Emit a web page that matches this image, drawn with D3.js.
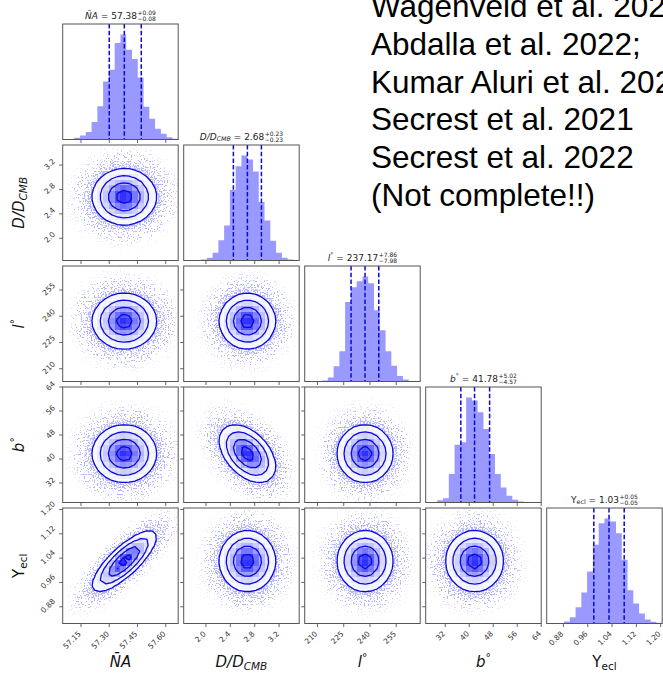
<!DOCTYPE html>
<html><head><meta charset="utf-8">
<script src="https://cdn.jsdelivr.net/npm/d3@7"></script>
<style>body{margin:0;background:#fff}svg{display:block}</style>
</head><body>
<svg id="chart" width="663" height="673"></svg>
<script>
// ---- parameters (NA, D/D_CMB, l, b, Upsilon_ecl) ----
const axisMin = [57.053, 1.635, 202.7, 25.5, 0.825];
const axisMax = [57.666, 3.53, 268.7, 64.0, 1.205];
const tickValues = [
  [57.15, 57.30, 57.45, 57.60],
  [2.0, 2.4, 2.8, 3.2],
  [210, 225, 240, 255],
  [32, 40, 48, 56, 64],
  [0.88, 0.96, 1.04, 1.12, 1.20]
];
const tickLabels = [
  ["57.15", "57.30", "57.45", "57.60"],
  ["2.0", "2.4", "2.8", "3.2"],
  ["210", "225", "240", "255"],
  ["32", "40", "48", "56", "64"],
  ["0.88", "0.96", "1.04", "1.12", "1.20"]
];
const medians = [57.38, 2.68, 237.17, 41.78, 1.03];
const errPlus = [0.09, 0.23, 7.86, 5.02, 0.05];
const errMinus = [0.08, 0.23, 7.98, 4.57, 0.05];
const medianText = ["57.38", "2.68", "237.17", "41.78", "1.03"];
const plusText = ["+0.09", "+0.23", "+7.86", "+5.02", "+0.05"];
const minusText = ["\u22120.08", "\u22120.23", "\u22127.98", "\u22124.57", "\u22120.05"];

// marginal histograms, 20 equal bins across each axis range
const histNA = [0, 1, 5, 12, 22, 52, 99, 172, 207, 287, 312, 267, 239, 184, 97, 62, 32, 17, 7, 2];
const histD  = [0, 0, 0, 3, 8, 23, 60, 103, 208, 278, 310, 298, 263, 173, 118, 58, 23, 8, 3, 1];
const histL  = [0, 0, 0, 3, 12, 45, 90, 236, 280, 298, 312, 292, 212, 152, 90, 47, 16, 6, 1, 0];
const histB  = [0, 0, 7, 13, 85, 173, 180, 314, 305, 270, 220, 145, 85, 45, 20, 8, 3, 1, 0, 0];
const histY  = [0, 0, 1, 6, 19, 49, 93, 156, 236, 301, 315, 306, 271, 191, 100, 60, 30, 12, 5, 2];
const histCounts = [histNA, histD, histL, histB, histY];

// pairwise correlation coefficients
const corrNA = [1, 0, 0, 0, 0.8];
const corrD  = [0, 1, 0, -0.45, 0];
const corrL  = [0, 0, 1, 0, 0];
const corrB  = [0, -0.45, 0, 1, 0];
const corrY  = [0.8, 0, 0, 0, 1];
const correlation = [corrNA, corrD, corrL, corrB, corrY];

// axis label text pieces
const axisLabelParts = [
  [{t: "N\u0304A", it: true}],
  [{t: "D/D", it: true}, {t: "CMB", it: true, sub: true}],
  [{t: "l", it: true}, {t: "\u00b0", sup: true}],
  [{t: "b", it: true}, {t: "\u00b0", sup: true}],
  [{t: "\u03a5"}, {t: "ecl", sub: true}]
];

const noteLines = ["Wagenveld et al. 2023;", "Abdalla et al. 2022;", "Kumar Aluri et al. 2023;",
                   "Secrest et al. 2021", "Secrest et al. 2022", "(Not complete!!)"];

// ---- layout ----
const W = 663, H = 673;
const N = 5, left0 = 62.7, top0 = 24, size = 115.5, pitch = 121;
const nBins = 20;
const blue = "#0000ff";
const lineBlue = "#0a0ad8";
const font = "DejaVu Sans, sans-serif";
const sigmaLevels = [0.5, 1, 1.5, 2];

const svg = d3.select("#chart");
const defs = svg.append("defs");

const xScales = d3.range(N).map(i => d3.scaleLinear()
  .domain([axisMin[i], axisMax[i]]).range([left0 + i * pitch, left0 + i * pitch + size]));
const yScales = d3.range(N).map(j => d3.scaleLinear()
  .domain([axisMin[j], axisMax[j]]).range([top0 + j * pitch + size, top0 + j * pitch]));

// speckle filter: turns a smooth density into a cloud of small sample dots
const f = defs.append("filter").attr("id", "speckle")
  .attr("filterUnits", "userSpaceOnUse").attr("x", 0).attr("y", 0).attr("width", W).attr("height", H)
  .attr("color-interpolation-filters", "sRGB");
f.append("feTurbulence").attr("type", "fractalNoise").attr("baseFrequency", 0.7)
  .attr("numOctaves", 1).attr("seed", 5).attr("result", "noise");
f.append("feColorMatrix").attr("in", "noise").attr("type", "matrix")
  .attr("values", "0 0 0 0 0  0 0 0 0 0  0 0 0 0 0  3 0 0 0 -1").attr("result", "na");
f.append("feColorMatrix").attr("in", "SourceGraphic").attr("type", "matrix")
  .attr("values", "0 0 0 0 0  0 0 0 0 0  0 0 0 0 0  0 0 0 1 0").attr("result", "sa");
f.append("feComposite").attr("in", "na").attr("in2", "sa").attr("operator", "arithmetic")
  .attr("k1", 0).attr("k2", 1).attr("k3", 1).attr("k4", -1).attr("result", "sum");
f.append("feComponentTransfer").attr("in", "sum").attr("result", "dots")
  .append("feFuncA").attr("type", "linear").attr("slope", 8).attr("intercept", 0);
f.append("feFlood").attr("flood-color", blue).attr("flood-opacity", 0.3).attr("result", "col");
f.append("feComposite").attr("in", "col").attr("in2", "dots").attr("operator", "in");

function sigmaOf(k) { return (errPlus[k] + errMinus[k]) / 2; }

// relative bivariate normal density for parameter pair (x: i, y: j)
function densityFn(i, j) {
  const mx = medians[i], sx = sigmaOf(i), my = medians[j], sy = sigmaOf(j);
  const r = correlation[j][i];
  return (x, y) => {
    const u = (x - mx) / sx, v = (y - my) / sy;
    return Math.exp(-0.5 * (u * u - 2 * r * u * v + v * v) / (1 - r * r));
  };
}

// rich text helper with sub/superscripts
function richText(text, parts, fs) {
  let off = 0;
  parts.forEach(p => {
    const ts = text.append("tspan").text(p.t);
    if (p.it) ts.attr("font-style", "italic");
    let target = 0;
    if (p.sub) { ts.attr("font-size", fs * 0.7); target = fs * 0.22; }
    else if (p.sup) { ts.attr("font-size", fs * 0.7); target = -fs * 0.38; }
    if (target !== off) ts.attr("dy", target - off);
    off = target;
  });
  return off;
}

function clipFor(id, x, y) {
  defs.append("clipPath").attr("id", id).append("rect")
    .attr("x", x).attr("y", y).attr("width", size).attr("height", size);
  return `url(#${id})`;
}

// ---- panels ----
for (let j = 0; j < N; j++) {
  for (let i = 0; i <= j; i++) {
    const xs = xScales[i];
    const px = xs.range()[0], py = top0 + j * pitch;
    const g = svg.append("g");
    const inner = g.append("g").attr("clip-path", clipFor(`c${i}${j}`, px, py));
    const bottom = py + size;

    if (i === j) {
      // marginal histogram
      const counts = histCounts[i];
      const bw = (axisMax[i] - axisMin[i]) / nBins;
      const ys = d3.scaleLinear().domain([0, 1.1 * d3.max(counts)]).range([bottom, py]);
      const steps = counts.map((c, b) => ({x: axisMin[i] + b * bw, c}));
      steps.push({x: axisMax[i], c: counts[nBins - 1]});
      inner.append("path")
        .attr("d", d3.area().curve(d3.curveStepAfter)
          .x(d => xs(d.x)).y0(bottom).y1(d => ys(d.c))(steps))
        .attr("fill", blue).attr("fill-opacity", 0.4);
      [medians[i] - errMinus[i], medians[i], medians[i] + errPlus[i]].forEach(q => {
        inner.append("line").attr("x1", xs(q)).attr("x2", xs(q)).attr("y1", py).attr("y2", bottom)
          .attr("stroke", lineBlue).attr("stroke-width", 1.5).attr("stroke-dasharray", "4.5,2.2");
      });
      // title with asymmetric errors
      const tg = svg.append("g").attr("font-family", font).attr("fill", "#222");
      const fs = 9;
      const t = tg.append("text").attr("x", 0).attr("y", py - 5.5).attr("font-size", fs);
      richText(t, axisLabelParts[i].concat([{t: " = " + medianText[i]}]), fs);
      const w1 = t.node().getComputedTextLength();
      const sp = tg.append("text").attr("x", w1 + 0.5).attr("y", py - 9).attr("font-size", 6).text(plusText[i]);
      const sm = tg.append("text").attr("x", w1 + 0.5).attr("y", py - 3.2).attr("font-size", 6).text(minusText[i]);
      const wt = w1 + 0.5 + Math.max(sp.node().getComputedTextLength(), sm.node().getComputedTextLength());
      tg.attr("transform", `translate(${px + size / 2 - wt / 2},0)`);
    } else {
      const ys = yScales[j];
      const dens = densityFn(i, j);
      // sample cloud drawn from a smooth density mask
      const n = Math.round(size);
      const cv = document.createElement("canvas");
      cv.width = n; cv.height = n;
      const ctx = cv.getContext("2d");
      const img = ctx.createImageData(n, n);
      for (let r = 0; r < n; r++) {
        for (let c = 0; c < n; c++) {
          const d = dens(xs.invert(px + (c + 0.5) * size / n), ys.invert(py + (r + 0.5) * size / n));
          img.data[(r * n + c) * 4 + 3] = Math.round(255 * Math.min(1, 0.75 * Math.pow(d / 0.135, 0.7)));
        }
      }
      ctx.putImageData(img, 0, 0);
      inner.append("image").attr("href", cv.toDataURL())
        .attr("x", px).attr("y", py).attr("width", size).attr("height", size)
        .attr("preserveAspectRatio", "none").attr("filter", "url(#speckle)");

      // binned density grid
      const bwx = (axisMax[i] - axisMin[i]) / nBins, bwy = (axisMax[j] - axisMin[j]) / nBins;
      const grid = new Array(nBins * nBins);
      for (let r = 0; r < nBins; r++)
        for (let c = 0; c < nBins; c++)
          grid[r * nBins + c] = dens(axisMin[i] + (c + 0.5) * bwx, axisMin[j] + (r + 0.5) * bwy);
      const gmax = d3.max(grid);
      const path = d3.geoPath(d3.geoTransform({
        point(x, y) { this.stream.point(xs(axisMin[i] + x * bwx), ys(axisMin[j] + y * bwy)); }
      }));
      const levels = sigmaLevels.map(s => Math.exp(-0.5 * s * s));
      const contours = d3.contours().size([nBins, nBins]).thresholds(levels)(grid);
      // white cover inside the outermost level
      const outer = contours.find(c => c.value === d3.min(levels));
      inner.append("path").attr("d", path(outer)).attr("fill", "#fff");
      // density cells
      for (let r = 0; r < nBins; r++) {
        for (let c = 0; c < nBins; c++) {
          const p = 0.9 * grid[r * nBins + c] / gmax;
          if (p < 0.01) continue;
          const x0 = xs(axisMin[i] + c * bwx), x1 = xs(axisMin[i] + (c + 1) * bwx);
          const y0 = ys(axisMin[j] + (r + 1) * bwy), y1 = ys(axisMin[j] + r * bwy);
          const v = Math.round(255 * (1 - p));
          inner.append("rect").attr("x", x0).attr("y", y0).attr("width", x1 - x0).attr("height", y1 - y0)
            .attr("fill", `rgb(${v},${v},255)`).attr("fill-opacity", p)
            .attr("shape-rendering", "crispEdges");
        }
      }
      // contour lines
      contours.forEach(c => {
        inner.append("path").attr("d", path(c)).attr("fill", "none")
          .attr("stroke", lineBlue).attr("stroke-width", 1.3).attr("stroke-linejoin", "round");
      });
      // left ticks
      tickValues[j].forEach(v => {
        g.append("line").attr("x1", px - 3.5).attr("x2", px).attr("y1", ys(v)).attr("y2", ys(v))
          .attr("stroke", "#555").attr("stroke-width", 0.9);
      });
    }
    // bottom ticks
    tickValues[i].forEach(v => {
      g.append("line").attr("x1", xs(v)).attr("x2", xs(v)).attr("y1", bottom).attr("y2", bottom + 3.5)
        .attr("stroke", "#555").attr("stroke-width", 0.9);
    });
    // frame
    g.append("rect").attr("x", px).attr("y", py).attr("width", size).attr("height", size)
      .attr("fill", "none").attr("stroke", "#555").attr("stroke-width", 1);
  }
}

// ---- tick labels (rotated) ----
const tfs = 7.5;
const bottomEdge = top0 + (N - 1) * pitch + size;
for (let i = 0; i < N; i++) {
  tickValues[i].forEach((v, k) => {
    const t = svg.append("text").attr("font-family", font).attr("font-size", tfs).attr("fill", "#333")
      .attr("text-anchor", "middle").attr("dy", "0.35em").text(tickLabels[i][k]);
    const L = t.node().getComputedTextLength();
    const d = (L + tfs * 0.9) * 0.354;
    const cx = xScales[i](v) - d + 1, cy = bottomEdge + 6.5 + d;
    t.attr("x", cx).attr("y", cy).attr("transform", `rotate(-45,${cx},${cy})`);
  });
}
for (let j = 1; j < N; j++) {
  tickValues[j].forEach((v, k) => {
    const t = svg.append("text").attr("font-family", font).attr("font-size", tfs).attr("fill", "#333")
      .attr("text-anchor", "middle").attr("dy", "0.35em").text(tickLabels[j][k]);
    const L = t.node().getComputedTextLength();
    const d = (L + tfs * 0.9) * 0.354;
    const cx = left0 - 6.5 - d, cy = yScales[j](v) - 1;
    t.attr("x", cx).attr("y", cy).attr("transform", `rotate(-45,${cx},${cy})`);
  });
}

// ---- axis labels ----
const afs = 15;
for (let i = 0; i < N; i++) {
  const t = svg.append("text").attr("font-family", font).attr("font-size", afs).attr("fill", "#111")
    .attr("text-anchor", "middle").attr("x", left0 + i * pitch + size / 2).attr("y", 667);
  richText(t, axisLabelParts[i], afs);
}
for (let j = 1; j < N; j++) {
  const cy = top0 + j * pitch + size / 2;
  const t = svg.append("text").attr("font-family", font).attr("font-size", afs).attr("fill", "#111")
    .attr("text-anchor", "middle").attr("x", 24).attr("y", cy)
    .attr("transform", `rotate(-90,24,${cy})`);
  richText(t, axisLabelParts[j], afs);
}

// ---- reference note ----
svg.append("g").selectAll("text").data(noteLines).join("text")
  .attr("x", 371).attr("y", (d, k) => 17.3 + k * 37.7)
  .attr("font-family", "Liberation Sans, Arial, sans-serif").attr("font-size", 31.5).attr("fill", "#000")
  .text(d => d);
</script>
</body></html>
